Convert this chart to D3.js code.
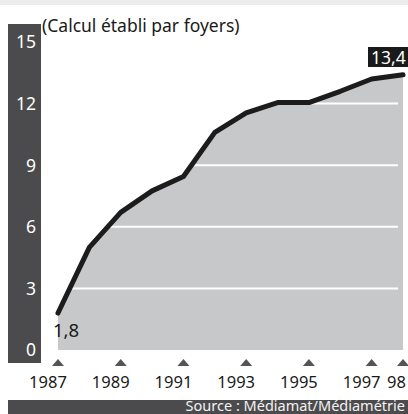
<!DOCTYPE html>
<html><head><meta charset="utf-8">
<script src="https://cdn.jsdelivr.net/npm/d3@7"></script>
<style>body{margin:0;background:#fff}svg{display:block}</style>
</head><body>
<svg id="c" width="408" height="414"></svg>
<script>
const years = [1987,1988,1989,1990,1991,1992,1993,1994,1995,1996,1997,1998];
const values = [1.8,5.0,6.7,7.75,8.45,10.6,11.55,12.05,12.05,12.6,13.2,13.4];
const yTicks = [0,3,6,9,12,15];
const xTickYears = [1987,1989,1991,1993,1995,1997,1998];
const xTickLabels = ["1987","1989","1991","1993","1995","1997","98"];
const subtitle = "(Calcul établi par foyers)";
const source = "Source : Médiamat/Médiamétrie";
const firstLabel = "1,8", lastLabel = "13,4";

const svg = d3.select("#c");
const font = "'Noto Sans', sans-serif";
const x = d3.scaleLinear().domain([1987,1998]).range([58,403]);
const y = d3.scaleLinear().domain([0,15]).range([350,42]);

// top banner strip
svg.append("rect").attr("x",0).attr("y",0).attr("width",408).attr("height",5).attr("fill","#ececec");
// left dark band
svg.append("rect").attr("x",8).attr("y",24).attr("width",33).attr("height",339).attr("fill","#4b4b4d");
// bottom source band
svg.append("rect").attr("x",8).attr("y",400).attr("width",400).attr("height",14).attr("fill","#4b4b4d");

// area
const area = d3.area().x((d,i)=>x(years[i])).y0(y(0)).y1(d=>y(d));
svg.append("path").datum(values).attr("d",area).attr("fill","#c7c8c9");

// gridlines
svg.append("g").selectAll("line").data(yTicks.filter(t=>t>0)).join("line")
  .attr("x1",x(1987)).attr("x2",398).attr("y1",d=>y(d)).attr("y2",d=>y(d))
  .attr("stroke","#fff").attr("stroke-width",2);

// line
const line = d3.line().x((d,i)=>x(years[i])).y(d=>y(d));
svg.append("path").datum(values).attr("d",line).attr("fill","none")
  .attr("stroke","#1c1c1c").attr("stroke-width",5).attr("stroke-linejoin","round").attr("stroke-linecap","round");

// y labels
svg.append("g").selectAll("text").data(yTicks).join("text")
  .attr("x",36).attr("y",d=>y(d)).attr("dy","0.36em").attr("text-anchor","end")
  .attr("fill","#fff").attr("font-family",font).attr("font-size",17.5).text(d=>d);

// triangles
svg.append("g").selectAll("path").data(xTickYears).join("path")
  .attr("d",d=>`M${x(d)-6},366 L${x(d)+6},366 L${x(d)},359 Z`).attr("fill","#555");

// x labels
svg.append("g").selectAll("text").data(xTickYears).join("text")
  .attr("x",(d,i)=> i===xTickYears.length-1 ? x(d)-16 : x(d)-10).attr("y",388)
  .attr("text-anchor",(d,i)=> i===xTickYears.length-1 ? "start":"middle")
  .attr("fill","#1a1a1a").attr("font-family",font).attr("font-size",16.5).text((d,i)=>xTickLabels[i]);

// subtitle
svg.append("text").attr("x",42).attr("y",32).attr("fill","#1a1a1a").attr("font-family",font).attr("font-size",17.5).text(subtitle);

// first value label
svg.append("text").attr("x",x(1987)-5).attr("y",337).attr("fill","#1a1a1a").attr("font-family",font).attr("font-size",18.5).text(firstLabel);

// last value label box
const lx = x(1998);
svg.append("rect").attr("x",lx-35).attr("y",47).attr("width",40).attr("height",20).attr("fill","#1a1a1a");
svg.append("text").attr("x",lx-32).attr("y",63.5).attr("fill","#fff").attr("font-family",font).attr("font-size",17.5).text(lastLabel);

// source
svg.append("text").attr("x",405).attr("y",411).attr("text-anchor","end").attr("fill","#f2f2f2")
  .attr("font-family",font).attr("font-size",14.5).text(source);
</script>
</body></html>
